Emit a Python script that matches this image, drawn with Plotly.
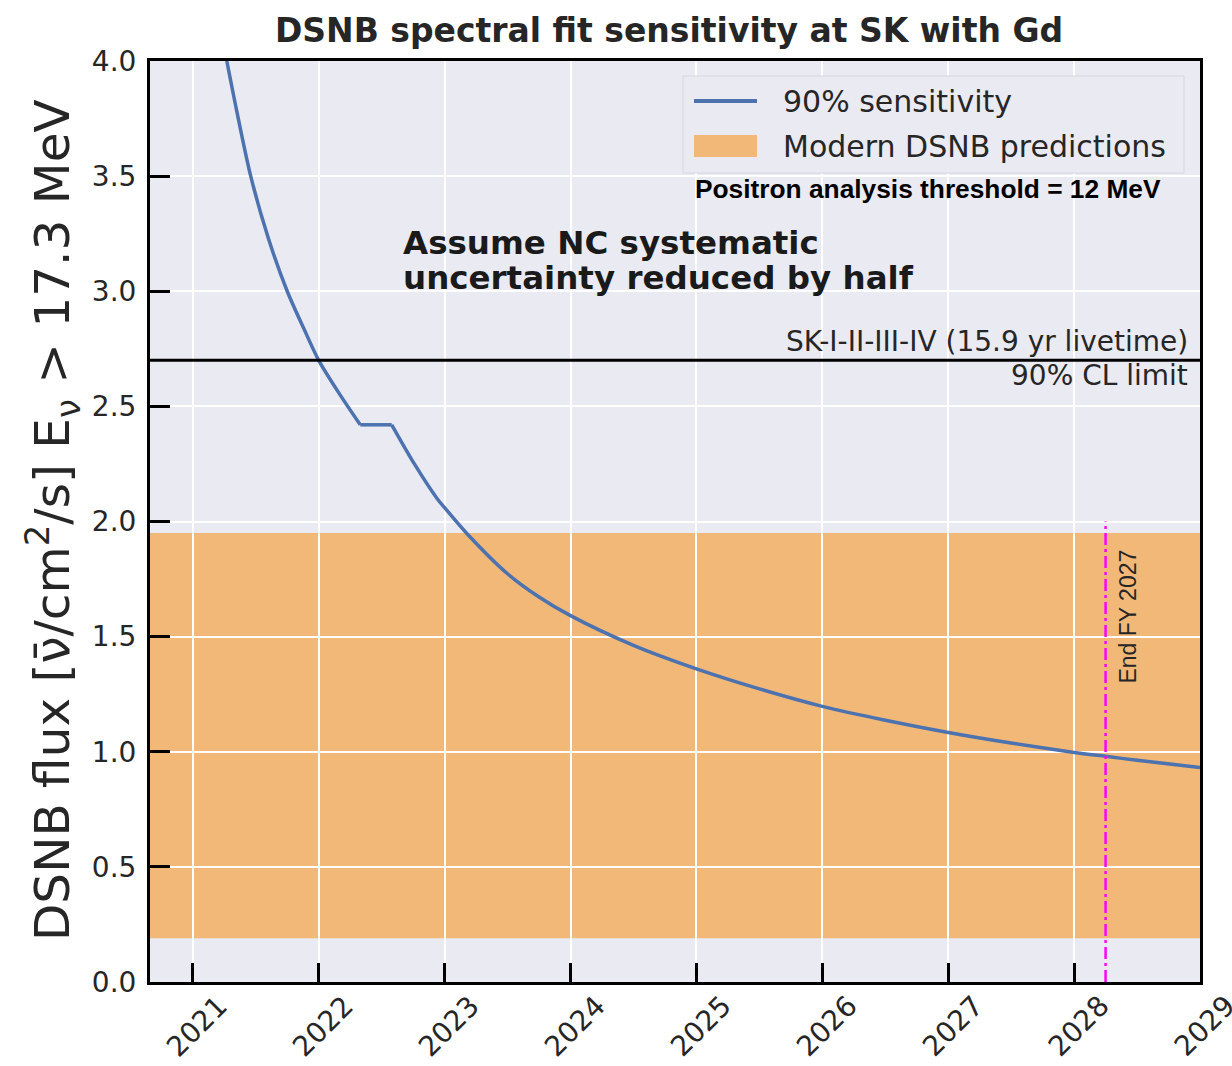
import plotly.graph_objects as go

# 90% sensitivity curve (flux upper limit vs. calendar year)
years = [2021.27, 2021.35, 2021.46, 2021.60, 2021.75, 2021.88, 2022.00, 2022.17,
         2022.33, 2022.58, 2022.76, 2022.94, 2023.00, 2023.18, 2023.50, 2023.75,
         2024.00, 2024.50, 2025.00, 2025.50, 2026.00, 2026.50, 2027.00, 2027.50,
         2028.00, 2028.25, 2028.50, 2029.00]
sensitivity = [4.00, 3.78, 3.50, 3.23, 3.00, 2.84, 2.70, 2.55,
               2.42, 2.42, 2.25, 2.10, 2.06, 1.946, 1.773, 1.672,
               1.591, 1.462, 1.36, 1.273, 1.197, 1.137, 1.084, 1.038,
               0.997, 0.98, 0.963, 0.932]
# the flat stretch of the curve runs between these two points
plateau_start, plateau_end = 8, 9

# Modern DSNB prediction band
band_low = 0.19
band_high = 1.95

# SK-I-II-III-IV 90% CL limit
sk_limit = 2.7

# End of FY 2027 marker
end_fy_year = 2028.25
end_fy_top = 2.0

x_ticks = [2021, 2022, 2023, 2024, 2025, 2026, 2027, 2028, 2029]
x_tick_labels = [str(v) for v in x_ticks]
y_ticks = [0.0, 0.5, 1.0, 1.5, 2.0, 2.5, 3.0, 3.5, 4.0]
y_tick_labels = ["%.1f" % v for v in y_ticks]
x_range = [2020.66, 2029.0]
y_range = [0.0, 4.0]

# figure geometry (pixels)
W, H = 1232, 1066
ML, MR, MT, MB = 150, 32, 61, 84
PW, PH = W - ML - MR, H - MT - MB


def px(x):
    return (x - ML) / PW


def py(y):
    return (H - MB - y) / PH


BLUE = "#4C72B0"
ORANGE = "#F2B878"
BG = "#EAEAF2"
TXT = "#262626"

fig = go.Figure()

# sensitivity curve: smooth falling parts joined by a straight plateau
segments = [
    (years[:plateau_start + 1], sensitivity[:plateau_start + 1], "spline"),
    (years[plateau_start:plateau_end + 1], sensitivity[plateau_start:plateau_end + 1], "linear"),
    (years[plateau_end:], sensitivity[plateau_end:], "spline"),
]
for sx, sy, shape in segments:
    fig.add_trace(go.Scatter(x=sx, y=sy, mode="lines",
                             line=dict(color=BLUE, width=3.5, shape=shape, smoothing=0.8),
                             showlegend=False))

fig.add_trace(go.Scatter(x=x_range, y=[sk_limit, sk_limit], mode="lines",
                         line=dict(color="black", width=3), showlegend=False))
fig.add_trace(go.Scatter(x=[end_fy_year, end_fy_year], y=[0, end_fy_top], mode="lines",
                         line=dict(color="#FF00FF", width=2.5, dash="12px,4px,3px,4px"),
                         showlegend=False))

shapes = [
    dict(type="rect", xref="paper", yref="y", x0=0, x1=1, y0=band_low, y1=band_high,
         fillcolor=ORANGE, line=dict(width=0), layer="below"),
    # legend box
    dict(type="rect", xref="paper", yref="paper", x0=px(683), x1=px(1184),
         y0=py(173), y1=py(76), fillcolor=BG, line=dict(color="#D6D6DE", width=1)),
    dict(type="line", xref="paper", yref="paper", x0=px(694), x1=px(757),
         y0=py(101), y1=py(101), line=dict(color=BLUE, width=4)),
    dict(type="rect", xref="paper", yref="paper", x0=px(694), x1=px(757),
         y0=py(157), y1=py(135), fillcolor=ORANGE, line=dict(width=0)),
]

note_font = dict(family="DejaVu Sans", size=32.5, color="#1a1a1a", weight="bold")
annotations = [
    dict(text="90% sensitivity", xref="paper", yref="paper", x=px(781), y=py(101),
         xanchor="left", yanchor="middle", showarrow=False,
         font=dict(family="DejaVu Sans", size=30, color=TXT)),
    dict(text="Modern DSNB predictions", xref="paper", yref="paper", x=px(781), y=py(146),
         xanchor="left", yanchor="middle", showarrow=False,
         font=dict(family="DejaVu Sans", size=30, color=TXT)),
    dict(text="Positron analysis threshold = 12 MeV", xref="paper", yref="paper",
         x=px(1163), y=py(189), xanchor="right", yanchor="middle", showarrow=False,
         font=dict(family="Liberation Sans", size=26.3, color="black", weight="bold")),
    dict(text="Assume NC systematic", xref="paper", yref="paper",
         x=px(401), y=py(243), xanchor="left", yanchor="middle", showarrow=False,
         font=note_font),
    dict(text="uncertainty reduced by half", xref="paper", yref="paper",
         x=px(401), y=py(278), xanchor="left", yanchor="middle", showarrow=False,
         font=note_font),
    dict(text="SK-I-II-III-IV (15.9 yr livetime)", xref="paper", yref="y",
         x=px(1190), y=sk_limit, yshift=19, xanchor="right", yanchor="middle", showarrow=False,
         font=dict(family="DejaVu Sans", size=28, color=TXT)),
    dict(text="90% CL limit", xref="paper", yref="y",
         x=px(1190), y=sk_limit, yshift=-15, xanchor="right", yanchor="middle", showarrow=False,
         font=dict(family="DejaVu Sans", size=28, color=TXT)),
    dict(text="End FY 2027", xref="x", yref="paper", x=end_fy_year, xshift=22, y=py(617),
         textangle=-90, xanchor="center", yanchor="middle", showarrow=False,
         font=dict(family="Liberation Sans", size=23, color=TXT)),
    dict(text="DSNB flux [ν̄/cm<sup>2</sup>/s] E<sub>ν</sub> > 17.3 MeV", xref="paper", yref="paper",
         x=px(52), y=py(520), textangle=-90, xanchor="center", yanchor="middle",
         showarrow=False, font=dict(family="DejaVu Sans", size=48.5, color=TXT)),
]

# rotated year labels centred under each tick
for v, lab in zip(x_ticks, x_tick_labels):
    annotations.append(dict(text=lab, xref="x", yref="paper", x=v, y=0, xshift=4, yshift=-44,
                            textangle=-45, xanchor="center", yanchor="middle", showarrow=False,
                            font=dict(family="DejaVu Sans", size=28, color=TXT)))

fig.update_layout(
    width=W, height=H,
    margin=dict(l=ML, r=MR, t=MT, b=MB),
    paper_bgcolor="white", plot_bgcolor=BG,
    showlegend=False,
    title=dict(text="DSNB spectral fit sensitivity at SK with Gd",
               xref="container", x=669 / W, xanchor="center",
               yref="container", y=1 - 30 / H, yanchor="middle",
               font=dict(family="DejaVu Sans", size=33, color=TXT, weight="bold")),
    shapes=shapes,
    annotations=annotations,
    xaxis=dict(range=x_range, tickvals=x_ticks, showticklabels=False,
               ticks="inside", ticklen=19, tickwidth=2.5, tickcolor="black",
               showgrid=True, gridcolor="white", gridwidth=1.5, zeroline=False,
               showline=True, linecolor="black", linewidth=3, mirror=True),
    yaxis=dict(range=y_range, tickvals=y_ticks, ticktext=y_tick_labels,
               ticks="inside", ticklen=20, tickwidth=2.5, tickcolor="black",
               ticklabelstandoff=5,
               tickfont=dict(family="DejaVu Sans", size=28, color=TXT),
               showgrid=True, gridcolor="white", gridwidth=1.5, zeroline=False,
               showline=True, linecolor="black", linewidth=3, mirror=True),
)

fig.write_html("out.html")
